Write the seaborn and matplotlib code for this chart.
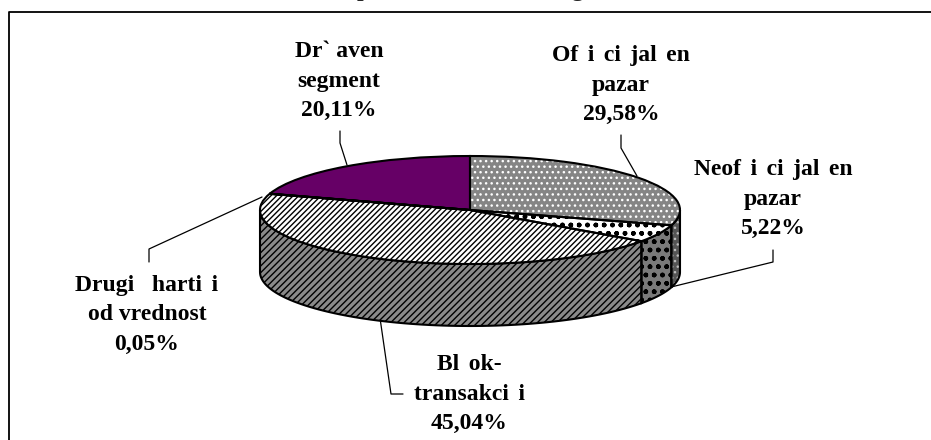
# %%
import numpy as np
import matplotlib
matplotlib.use('Agg')
import matplotlib.pyplot as plt
import seaborn as sns

# %%
# dados
TS = '\u2009\u2009'
categorias = [f'Of{TS}i{TS}ci{TS}jal{TS}en\npazar',
              f'Neof{TS}i{TS}ci{TS}jal{TS}en\npazar',
              f'Bl{TS}ok-\ntransakci{TS}i',
              f'Drugi   harti{TS}i\nod vrednost',
              'Dr` aven\nsegment']
valores = [29.58, 5.22, 45.04, 0.05, 20.11]

# %%
# estilos de cada fatia, na mesma ordem dos valores
cor_topo = ['#858585', '#ffffff', '#ffffff', '#ffffff', '#660066']
hatch_topo = ['...', '..oo', '//////', '//////', None]
cor_hatch_topo = ['white', 'black', 'black', 'black', '#660066']
cor_lado = ['#555555', '#7a7a7a', '#8a8a8a', '#8a8a8a', '#330033']
hatch_lado = ['...', '..oo', '/////', '/////', None]
cor_hatch_lado = ['#bbbbbb', 'black', 'black', 'black', '#330033']

sns.set_style('white')
plt.rcParams['font.family'] = ['Liberation Serif', 'DejaVu Serif']
plt.rcParams['hatch.linewidth'] = 1.0

W, H = 931, 440
fig = plt.figure(figsize=(W / 100, H / 100), dpi=100)

# eixo em pixels para moldura, rótulos e linhas de chamada
fundo = fig.add_axes([0, 0, 1, 1])
fundo.set_xlim(0, W)
fundo.set_ylim(H, 0)
fundo.axis('off')

# elipse do topo da pizza: centro (470, 210), raios 210 x 54
cx, cy, rx, ry = 470, 210, 210, 54
profundidade = 62 / ry
ax = fig.add_axes([(cx - rx) / W, 1 - (cy + ry) / H, 2 * rx / W, 2 * ry / H])

# %%
# lateral da pizza: só a metade da frente aparece
inicio = 90 - np.cumsum([0] + valores[:-1]) * 3.6
fim = 90 - np.cumsum(valores) * 3.6
for a0, a1, cor, hatch, ch in zip(inicio, fim, cor_lado, hatch_lado, cor_hatch_lado):
    a0, a1 = min(a0, 0), max(a1, -180)
    if a1 >= a0:
        continue
    a = np.radians(np.linspace(a0, a1, 80))
    x = np.r_[np.cos(a), np.cos(a[::-1])]
    y = np.r_[np.sin(a), np.sin(a[::-1]) - profundidade]
    ax.fill(x, y, facecolor=cor, edgecolor=ch, hatch=hatch, linewidth=0, clip_on=False, zorder=1)
    ax.fill(x, y, facecolor='none', edgecolor='black', linewidth=1.5, clip_on=False, zorder=2)

# %%
# topo da pizza: primeiro o preenchimento, depois o contorno preto
fatias, _ = ax.pie(valores, colors=cor_topo, hatch=hatch_topo, startangle=90, counterclock=False,
                   radius=1, wedgeprops={'linewidth': 0})
for fatia, ch in zip(fatias, cor_hatch_topo):
    fatia.set_edgecolor(ch)
    fatia.set_clip_on(False)
    fatia.set_zorder(3)
contornos, _ = ax.pie(valores, colors=['none'] * 5, startangle=90, counterclock=False, radius=1,
                      wedgeprops={'linewidth': 1.5, 'edgecolor': 'black'})
for fatia in contornos:
    fatia.set_clip_on(False)
    fatia.set_zorder(4)
ax.set_aspect('auto')
ax.set_xlim(-1, 1)
ax.set_ylim(-1, 1)
ax.axis('off')

# %%
# moldura aberta à direita e embaixo
fundo.plot([931, 8.5, 8.5], [12, 12, 440], color='black', linewidth=1.3)

# restos do título cortado no alto da página
fundo.text(363, -4, 'p', fontsize=17, fontweight='bold', ha='center', va='baseline')
fundo.text(577, -4, 'g', fontsize=17, fontweight='bold', ha='center', va='baseline')

# linhas de chamada
chamadas = [([621, 621, 637], [135, 148, 176]),
            ([773, 773, 663], [250, 262, 289]),
            ([380, 391, 403], [318, 394, 394]),
            ([149, 149, 262], [262, 249, 197]),
            ([340, 340, 347], [131, 143, 165])]
for xs, ys in chamadas:
    fundo.plot(xs, ys, color='black', linewidth=0.9)

# rótulos: nome + porcentagem com vírgula
pos_rotulos = [(621, 85), (773, 199), (469, 394), (147, 315), (339, 81)]
for nome, valor, (x, y) in zip(categorias, valores, pos_rotulos):
    texto = f"{nome}\n{valor:.2f}%".replace('.', ',')
    fundo.text(x, y, texto, fontsize=17, fontweight='bold', ha='center', va='center',
               linespacing=1.55, color='black')

fig.savefig('out.png', dpi=100, facecolor='white')
